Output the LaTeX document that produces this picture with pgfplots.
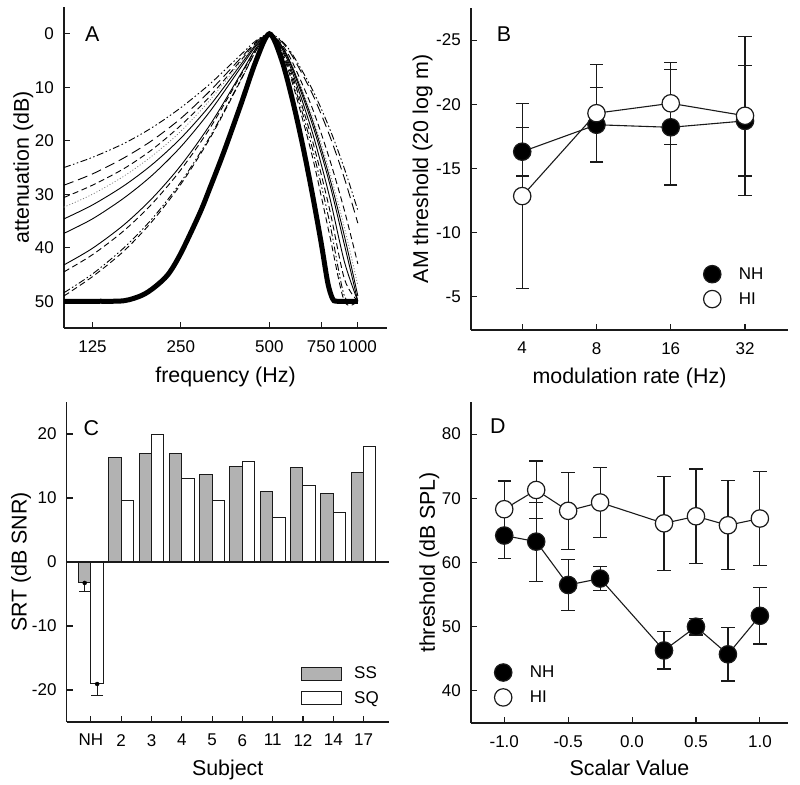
\documentclass[border=0pt]{standalone}
\usepackage{fontspec}
\setmainfont{Liberation Sans}
\usepackage{pgfplots}
\pgfplotsset{compat=1.18}

\definecolor{axc}{HTML}{1A1A1A}
\definecolor{barg}{HTML}{B2B2B2}
\newcommand\tk{\fontsize{17}{20}\selectfont}
\newcommand\lb{\fontsize{21.4}{25}\selectfont}

\pgfplotsset{
  panel/.style={scale only axis, axis x line*=bottom, axis y line*=left, tick pos=left,
    axis line style={line width=1.2pt, axc}, tick style={line width=1.1pt, axc},
    tick align=inside, major tick length=6pt, minor tick num=0,
    tick label style={font=\tk, text=black}, label style={font=\lb},
    xticklabel style={anchor=north, inner sep=0pt, yshift=-12pt},
    yticklabel style={anchor=east, inner sep=0pt, xshift=-10pt},
    legend style={draw=none, fill=none, font=\tk, inner sep=0pt, anchor=north west},
    legend cell align=left, clip=false},
  ebar/.style={only marks, mark=none, forget plot, error bars/.cd, y dir=both, y explicit,
    error bar style={line width=1.2pt, draw=axc},
    error mark options={rotate=90, line width=1.2pt, draw=axc, mark size=6.7pt}},
  conn/.style={line width=1.1pt, axc, mark=none, forget plot},
  dotleg/.style={legend image code/.code={\draw[##1] plot coordinates {(0pt,0pt)};}},
  barleg/.style={legend image code/.code={\draw[##1] (0pt,-6.5pt) rectangle (40pt,6.5pt);}},
  fdot/.style={only marks, mark=*, mark size=8.7pt, mark options={fill=black, draw=axc, line width=1.2pt}, dotleg},
  odot/.style={only marks, mark=*, mark size=8.7pt, mark options={fill=white, draw=axc, line width=1.2pt}, dotleg},
  thin/.style={line width=0.9pt, black, smooth, mark=none},
  ddd/.style={thin, dash pattern=on 7pt off 2.5pt on 1.5pt off 2.5pt on 1.5pt off 2.5pt},
  ldash/.style={thin, dash pattern=on 10pt off 5pt},
  sdash/.style={thin, dash pattern=on 6pt off 3.5pt},
  dots/.style={thin, gray, line cap=round, dash pattern=on 0.5pt off 2.5pt},
}

\begin{document}
\begin{tikzpicture}
\useasboundingbox (0pt,0pt) rectangle (800pt,-784pt);

% ---------------- A: filter shapes ----------------
\begin{axis}[panel, at={(64pt,-328pt)}, anchor=south west, width=323pt, height=321pt,
    xmode=log, log basis x=2, xmin=100, xmax=1257,
    xtick={125,250,500,750,1000}, xticklabels={125,250,500,750,1000},
    y dir=reverse, ymin=-5, ymax=55, ytick={0,10,20,30,40,50}, yticklabels={0,10,20,30,40,50},
    xlabel={frequency (Hz)}, ylabel={attenuation (dB)},
    xlabel style={at={(axis description cs:0.5,-0.1713)}, anchor=base},
    ylabel style={at={(axis description cs:-0.1084,0.5)}, anchor=base}]
\addplot[ddd] coordinates {(100,25.0)(125,23.1)(160,20.5)(200,17.5)(250,13.8)(315,9.3)(400,3.9)(450,1.3)(500,0)(550,1.3)(600,3.9)(700,10.4)(800,17.6)(900,25.2)(1000,33.0)};
\addplot[ldash] coordinates {(100,28.3)(125,26.2)(160,23.2)(200,19.9)(250,15.8)(315,10.6)(400,4.5)(450,1.55)(500,0)(550,1.47)(600,4.27)(700,11.2)(800,18.9)(900,27.0)(1000,35.4)};
\addplot[sdash] coordinates {(100,30.6)(125,28.3)(160,25.2)(200,21.6)(250,17.1)(315,11.6)(400,4.96)(450,1.73)(500,0)(550,1.9)(600,5.4)(700,13.9)(800,23.3)(900,33.0)(1000,43.0)};
\addplot[dots] coordinates {(100,32.4)(125,30.0)(160,26.6)(200,22.8)(250,18.2)(315,12.3)(400,5.25)(450,1.86)(500,0)(550,2.1)(600,6.05)(700,15.4)(800,25.6)(900,36.2)(1000,47.0)};
\addplot[thin] coordinates {(100,34.6)(125,32.0)(160,28.4)(200,24.4)(250,19.5)(315,13.3)(400,5.73)(450,2.03)(500,0)(550,2.2)(600,6.36)(700,16.1)(800,26.7)(900,37.8)(1000,49.0)};
\addplot[thin] coordinates {(100,37.3)(125,34.6)(160,30.7)(200,26.4)(250,21.1)(315,14.4)(400,6.27)(450,2.3)(500,0)(550,2.35)(600,6.7)(700,16.9)(800,27.8)(900,39.4)(1000,50)};
\addplot[thin] coordinates {(100,43.2)(125,40.1)(160,35.7)(200,30.7)(250,24.6)(315,16.9)(400,7.47)(450,2.72)(500,0)(550,2.65)(600,7.34)(700,18.4)(800,30.3)(900,42.6)(1000,50)};
\addplot[sdash] coordinates {(100,44.5)(125,41.3)(160,36.8)(200,31.7)(250,25.4)(315,17.5)(400,7.74)(450,2.83)(500,0)(550,2.93)(600,8.0)(700,19.9)(800,32.6)(900,45.8)(1000,50)};
\addplot[ddd] coordinates {(100,48.4)(125,44.9)(160,40.0)(200,34.5)(250,27.7)(315,19.1)(400,8.54)(450,3.15)(500,0)(550,3.2)(600,8.67)(700,21.4)(800,35.0)(900,49.0)(1000,50)};
\addplot[sdash] coordinates {(100,49.0)(125,45.4)(160,40.6)(200,35.0)(250,28.1)(315,19.4)(400,8.67)(450,3.2)(500,0)(550,3.5)(600,9.35)(700,22.9)(800,37.4)(900,50)(1000,50)};
\addplot[black, line width=5pt, smooth, mark=none] coordinates {(100,50)(130,50)(160,49.9)(184,48.9)(203,47.4)(226,45)(250,41)(290,33.5)(315,28.6)(350,22.1)(400,13.2)(450,5.1)(500,0)(550,4.8)(600,12.5)(650,21)(700,29.9)(750,39)(790,46.5)(820,49.5)(850,50)(1000,50)};
\end{axis}

% ---------------- B: AM thresholds ----------------
\begin{axis}[panel, at={(471pt,-330pt)}, anchor=south west, width=317pt, height=322pt,
    xmode=log, log basis x=2, xmin=2.48, xmax=47.8,
    xtick={4,8,16,32}, xticklabels={4,8,16,32},
    y dir=reverse, ymin=-27.5, ymax=-2.4, ytick={-25,-20,-15,-10,-5}, yticklabels={-25,-20,-15,-10,-5},
    xlabel={modulation rate (Hz)}, ylabel={AM threshold (20 log m)},
    xlabel style={at={(axis description cs:0.5,-0.1655)}, anchor=base},
    ylabel style={at={(axis description cs:-0.1356,0.5)}, anchor=base},
    legend style={at={(axis description cs:0.733,0.201)}, row sep=7.5pt, column sep=16pt}]
\addplot[ebar] coordinates {(4,-16.3) +- (0,1.9) (8,-18.4) +- (0,2.9) (16,-18.2) +- (0,4.5) (32,-18.7) +- (0,4.3)};
\addplot[ebar] coordinates {(4,-12.84) +- (0,7.2) (8,-19.3) +- (0,3.8) (16,-20.07) +- (0,3.2) (32,-19.1) +- (0,6.2)};
\addplot[conn] coordinates {(4,-16.3) (8,-18.4) (16,-18.2) (32,-18.7)};
\addplot[conn] coordinates {(4,-12.84) (8,-19.3) (16,-20.07) (32,-19.1)};
\addplot[fdot] coordinates {(4,-16.3) (8,-18.4) (16,-18.2) (32,-18.7)};
\addplot[odot] coordinates {(4,-12.84) (8,-19.3) (16,-20.07) (32,-19.1)};
\legend{NH,HI}
\end{axis}

% ---------------- C: SRT bars ----------------
\begin{axis}[panel, at={(66.7pt,-722pt)}, anchor=south west, width=322pt, height=320pt,
    xmin=-0.8, xmax=9.83, xtick={0,1,2,3,4,5,6,7,8,9},
    xticklabels={NH,2,3,4,5,6,11,12,14,17},
    ymin=-25, ymax=25, ytick={-20,-10,0,10,20}, yticklabels={-20,-10,0,10,20},
    xlabel={Subject}, ylabel={SRT (dB SNR)},
    xlabel style={at={(axis description cs:0.5,-0.1666)}, anchor=base},
    ylabel style={at={(axis description cs:-0.1242,0.5)}, anchor=base},
    legend style={at={(axis description cs:0.7277,0.179)}, row sep=7pt, column sep=10pt}]
\addplot[ybar, bar width=0.41, bar shift=-0.205, fill=barg, draw=axc, line width=1pt, barleg]
  coordinates {(0,-3.27) (1,16.3) (2,17.0) (3,17.0) (4,13.66) (5,14.96) (6,11.0) (7,14.75) (8,10.65) (9,14.0)};
\addplot[ybar, bar width=0.41, bar shift=0.205, fill=white, draw=axc, line width=1pt, barleg]
  coordinates {(0,-19.06) (1,9.6) (2,20.0) (3,13.0) (4,9.6) (5,15.7) (6,7.0) (7,11.95) (8,7.7) (9,18.0)};
\addplot[only marks, mark=none, forget plot, error bars/.cd, y dir=minus, y explicit,
    error bar style={line width=1pt, draw=axc},
    error mark options={rotate=90, line width=1pt, draw=axc, mark size=6pt}]
  coordinates {(-0.205,-3.27) +- (0,1.3) (0.205,-19.06) +- (0,1.84)};
\addplot[line width=1.2pt, axc, mark=none, forget plot] coordinates {(-0.8,0) (9.83,0)};
\legend{SS,SQ}
\end{axis}

% ---------------- D: thresholds vs scalar ----------------
\begin{axis}[panel, at={(471pt,-723pt)}, anchor=south west, width=317pt, height=321pt,
    xmin=-1.26, xmax=1.22, xtick={-1,-0.5,0,0.5,1}, xticklabels={-1.0,-0.5,0.0,0.5,1.0},
    ymin=35, ymax=85, ytick={40,50,60,70,80}, yticklabels={40,50,60,70,80},
    xlabel={Scalar Value}, ylabel={threshold (dB SPL)},
    xlabel style={at={(axis description cs:0.5,-0.163)}, anchor=base},
    ylabel style={at={(axis description cs:-0.1136,0.5)}, anchor=base},
    legend style={at={(axis description cs:0.0735,0.185)}, row sep=7.5pt, column sep=16pt}]
\addplot[ebar] coordinates {(-1,64.2) +- (0,3.6) (-0.75,63.25) +- (0,6.15) (-0.5,56.5) +- (0,4) (-0.25,57.5) +- (0,1.9) (0.25,46.3) +- (0,2.9) (0.5,50.0) +- (0,1.3) (0.75,45.7) +- (0,4.15) (1,51.7) +- (0,4.4)};
\addplot[ebar] coordinates {(-1,68.3) +- (0,4.4) (-0.75,71.3) +- (0,4.5) (-0.5,68.05) +- (0,6) (-0.25,69.35) +- (0,5.45) (0.25,66.1) +- (0,7.3) (0.5,67.2) +- (0,7.35) (0.75,65.8) +- (0,6.95) (1,66.85) +- (0,7.35)};
\addplot[conn] coordinates {(-1,64.2) (-0.75,63.25) (-0.5,56.5) (-0.25,57.5) (0.25,46.3) (0.5,50.0) (0.75,45.7) (1,51.7)};
\addplot[conn] coordinates {(-1,68.3) (-0.75,71.3) (-0.5,68.05) (-0.25,69.35) (0.25,66.1) (0.5,67.2) (0.75,65.8) (1,66.85)};
\addplot[fdot] coordinates {(-1,64.2) (-0.75,63.25) (-0.5,56.5) (-0.25,57.5) (0.25,46.3) (0.5,50.0) (0.75,45.7) (1,51.7)};
\addplot[odot] coordinates {(-1,68.3) (-0.75,71.3) (-0.5,68.05) (-0.25,69.35) (0.25,66.1) (0.5,67.2) (0.75,65.8) (1,66.85)};
\legend{NH,HI}
\end{axis}

% panel letters
\node[font=\lb, anchor=base west, inner sep=0pt] at (85pt,-41.7pt) {A};
\node[font=\lb, anchor=base west, inner sep=0pt] at (496.7pt,-41.7pt) {B};
\node[font=\lb, anchor=base west, inner sep=0pt] at (83.3pt,-435.3pt) {C};
\node[font=\lb, anchor=base west, inner sep=0pt] at (490pt,-433.7pt) {D};
\end{tikzpicture}
\end{document}
